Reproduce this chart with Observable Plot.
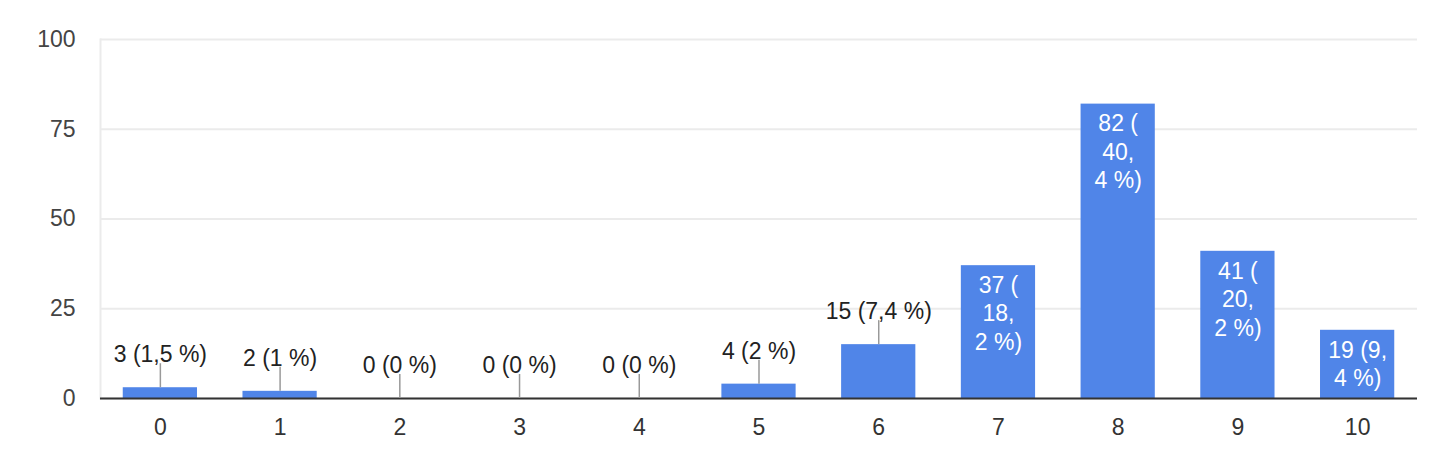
<!DOCTYPE html>
<html><head><meta charset="utf-8">
<script src="https://cdn.jsdelivr.net/npm/d3@7"></script>
<script src="https://cdn.jsdelivr.net/npm/@observablehq/plot@0.6"></script>
<style>body{margin:0;background:#fff;}</style>
</head><body><div id="chart"></div>
<script>
const categories = ["0","1","2","3","4","5","6","7","8","9","10"];
const counts = [3, 2, 0, 0, 0, 4, 15, 37, 82, 41, 19];
const labels = ["3 (1,5 %)", "2 (1 %)", "0 (0 %)", "0 (0 %)", "0 (0 %)", "4 (2 %)", "15 (7,4 %)",
  "37 (\n18,\n2 %)", "82 (\n40,\n4 %)", "41 (\n20,\n2 %)", "19 (9,\n4 %)"];
const yTicks = [0, 25, 50, 75, 100];

const data = categories.map((c, i) => ({cat: c, n: counts[i], label: labels[i]}));
const inside = data.filter(d => d.label.includes("\n"));
const outside = data.filter(d => !d.label.includes("\n"));

const chart = Plot.plot({
  width: 1430, height: 462,
  marginLeft: 100, marginRight: 13, marginTop: 39, marginBottom: 64,
  style: {fontFamily: "'Liberation Sans', Arial, sans-serif", fontSize: "23px", background: "#fff"},
  x: {type: "band", domain: categories, paddingInner: 0.38, paddingOuter: 0.19, round: false, label: null},
  y: {domain: [0, 100], label: null},
  marks: [
    Plot.gridY(yTicks, {stroke: "#ebebeb", strokeOpacity: 1, strokeWidth: 2}),
    Plot.frame({anchor: "left", stroke: "#ebebeb", strokeWidth: 2}),
    Plot.axisY(yTicks, {tickSize: 0, tickPadding: 25, fill: "#444", fontSize: 23, label: null}),
    Plot.axisX({tickSize: 0, tickPadding: 20, fill: "#333", fontSize: 23, label: null}),
    Plot.barY(data, {x: "cat", y: "n", fill: "#5085e8"}),
    Plot.ruleY([0], {stroke: "#333", strokeWidth: 2}),
    Plot.ruleX(outside, {x: "cat", y1: "n", y2: "n", insetTop: -24, stroke: "#999", strokeWidth: 1.5}),
    Plot.text(outside, {x: "cat", y: "n", text: "label", dy: -33, fill: "#222", fontSize: 23}),
    Plot.text(inside, {x: "cat", y: "n", text: "label", lineAnchor: "top", dy: 7, lineHeight: 1.24, fill: "#fff", fontSize: 23})
  ]
});
document.getElementById("chart").appendChild(chart);
</script>
</body></html>
